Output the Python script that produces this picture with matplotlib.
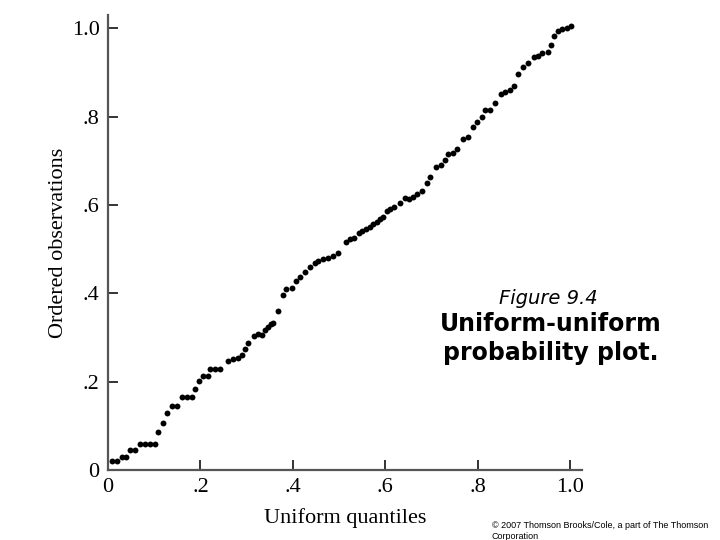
import matplotlib
matplotlib.use("Agg")
import matplotlib.pyplot as plt

# Uniform quantiles (x) and ordered observations (y)
quantiles = [0.008, 0.019, 0.030, 0.040, 0.048, 0.058, 0.069, 0.080, 0.091, 0.102,
             0.109, 0.120, 0.128, 0.138, 0.149, 0.160, 0.170, 0.181, 0.188, 0.198,
             0.206, 0.217, 0.221, 0.232, 0.242, 0.260, 0.271, 0.282, 0.291, 0.297,
             0.304, 0.315, 0.324, 0.333, 0.340, 0.346, 0.353, 0.358, 0.369, 0.379,
             0.385, 0.398, 0.408, 0.416, 0.426, 0.437, 0.448, 0.455, 0.466, 0.477,
             0.488, 0.498, 0.515, 0.524, 0.533, 0.543, 0.550, 0.558, 0.567, 0.574,
             0.582, 0.589, 0.596, 0.603, 0.610, 0.619, 0.631, 0.643, 0.652, 0.661,
             0.668, 0.679, 0.690, 0.698, 0.710, 0.720, 0.729, 0.737, 0.746, 0.756,
             0.768, 0.780, 0.791, 0.798, 0.809, 0.816, 0.827, 0.838, 0.851, 0.859,
             0.870, 0.879, 0.888, 0.899, 0.910, 0.921, 0.930, 0.939, 0.952, 0.959,
             0.966, 0.975, 0.983, 0.993, 1.002]
observations = [0.021, 0.021, 0.030, 0.030, 0.045, 0.045, 0.059, 0.059, 0.059, 0.059,
                0.086, 0.107, 0.128, 0.145, 0.145, 0.166, 0.166, 0.166, 0.183, 0.201,
                0.213, 0.213, 0.228, 0.228, 0.228, 0.247, 0.251, 0.253, 0.260, 0.273,
                0.288, 0.303, 0.308, 0.306, 0.317, 0.323, 0.330, 0.333, 0.360, 0.396,
                0.410, 0.413, 0.429, 0.436, 0.449, 0.459, 0.468, 0.473, 0.477, 0.481,
                0.484, 0.491, 0.517, 0.522, 0.525, 0.536, 0.540, 0.545, 0.551, 0.556,
                0.561, 0.568, 0.573, 0.586, 0.591, 0.595, 0.605, 0.615, 0.613, 0.617,
                0.625, 0.632, 0.650, 0.663, 0.685, 0.691, 0.702, 0.715, 0.717, 0.726,
                0.749, 0.753, 0.776, 0.787, 0.800, 0.815, 0.815, 0.830, 0.851, 0.855,
                0.860, 0.870, 0.896, 0.913, 0.921, 0.936, 0.938, 0.943, 0.946, 0.962,
                0.983, 0.994, 0.998, 1.000, 1.005]

tick_values = [0, 0.2, 0.4, 0.6, 0.8, 1.0]
tick_labels = ["0", ".2", ".4", ".6", ".8", "1.0"]

fig = plt.figure(figsize=(7.2, 5.4), dpi=100)
ax = fig.add_axes([108 / 720, 1 - 470 / 540, 474 / 720, 455 / 540])

ax.scatter(quantiles, observations, s=18, color="black", linewidths=0, zorder=3)

ax.set_xlim(0, 474 / 462)
ax.set_ylim(0, 455 / 441.7)

for side in ("top", "right"):
    ax.spines[side].set_visible(False)
for side in ("left", "bottom"):
    ax.spines[side].set_color("#555555")
    ax.spines[side].set_linewidth(1.6)

serif = ["Liberation Serif", "DejaVu Serif"]
ax.set_xticks(tick_values)
ax.set_xticklabels(tick_labels, fontfamily=serif, fontsize=16)
ax.set_yticks(tick_values)
ax.set_yticklabels(tick_labels, fontfamily=serif, fontsize=16)
ax.tick_params(axis="both", direction="in", length=7, width=1.4, color="#333333", pad=6)

ax.set_xlabel("Uniform quantiles", fontfamily=serif, fontsize=16, labelpad=8)
ax.set_ylabel("Ordered observations", fontfamily=serif, fontsize=16, labelpad=3)

fig.text(548 / 720, 1 - 298 / 540, "Figure 9.4", ha="center", va="center",
         fontsize=14, style="italic", family=["DejaVu Sans"])
fig.text(551 / 720, 1 - 324 / 540, "Uniform-uniform", ha="center", va="center",
         fontsize=17, weight="bold", family=["DejaVu Sans"])
fig.text(551 / 720, 1 - 353 / 540, "probability plot.", ha="center", va="center",
         fontsize=17, weight="bold", family=["DejaVu Sans"])

fig.text(492 / 720, 1 - 531 / 540,
         "\u00a9 2007 Thomson Brooks/Cole, a part of The Thomson\nCorporation",
         ha="left", va="center", fontsize=6.5, linespacing=1.3,
         family=["Liberation Sans Narrow", "Liberation Sans", "DejaVu Sans"])

fig.savefig("out.png", dpi=100)
